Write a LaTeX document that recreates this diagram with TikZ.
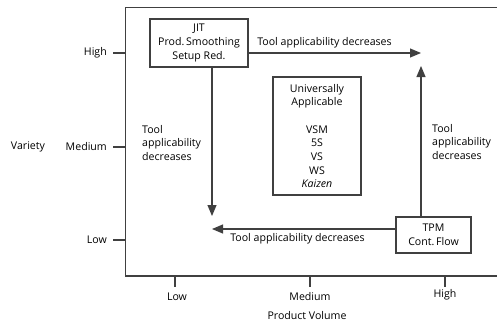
\documentclass[tikz,border=0pt]{standalone}
\usepackage{fontspec}
\setmainfont{Open Sans}
\usepackage{tikz}
\usetikzlibrary{arrows.meta}

\begin{document}
\begin{tikzpicture}[x=1pt,y=-1pt,font=\fontsize{10.6}{13.7}\selectfont]
            \tikzstyle{every node}+=[inner sep=0pt, text=black]
            \tikzstyle{tbox}=[draw=black!75, line width=1.1pt, align=center]
            \tikzstyle{flow}=[draw=black!75, line width=1.1pt, -{Triangle[length=11pt,width=9pt]}]
            \tikzstyle{axis}=[draw=black!75, line width=1.1pt]
            \useasboundingbox (0,0) rectangle (497,322);
            \draw [axis] (497,7.5) -- (125.5,7.5) -- (125.5,276) -- (497,276);
            \node [tbox, minimum width=98pt, minimum height=48pt] (jit) at (199,43) {JIT\\Prod.\,Smoothing\\Setup Red.};
            \node [tbox, minimum width=88pt, minimum height=118pt] (univ) at (317,136) {Universally\\Applicable\\[13.7pt]VSM\\5S\\VS\\WS\\\textit{Kaizen}};
            \node [tbox, minimum width=75pt, minimum height=36pt] (tpm) at (433.5,235) {TPM\\Cont.\,Flow};
            \coordinate (rightTip) at (421,53);
            \coordinate (downTip) at (212,216);
            \coordinate (upTip) at (421,66);
            \coordinate (leftTip) at (212,229);
            \draw [flow] (jit.east |- rightTip) -- (rightTip);
            \draw [flow] (jit.south -| downTip) -- (downTip);
            \draw [flow] (tpm.north -| upTip) -- (upTip);
            \draw [flow] (tpm.west |- leftTip) -- (leftTip);
            \node (topLbl) at (324.5,43) {Tool applicability decreases};
            \node (botLbl) at (297.5,239) {Tool applicability decreases};
            \node [anchor=west, align=left] (leftLbl) at (142,143) {Tool\\applicability\\decreases};
            \node [anchor=west, align=left] (rightLbl) at (432,142) {Tool\\applicability\\decreases};
            \node (variety) at (28,147) {Variety};
            \node [anchor=east] (yHigh) at (107,53) {High};
            \node [anchor=east] (yMed) at (107,147) {Medium};
            \node [anchor=east] (yLow) at (107,240) {Low};
            \draw [axis] (113,53) -- (125.5,53);
            \draw [axis] (113,147) -- (125.5,147);
            \draw [axis] (113,240) -- (125.5,240);
            \node (xLow) at (177,297) {Low};
            \node (xMed) at (310,297) {Medium};
            \node (xHigh) at (445,295) {High};
            \draw [axis] (175,276) -- (175,287);
            \draw [axis] (310,276) -- (310,287);
            \draw [axis] (445,276) -- (445,287);
            \node (volume) at (307,316) {Product Volume};
        \end{tikzpicture}
\end{document}
